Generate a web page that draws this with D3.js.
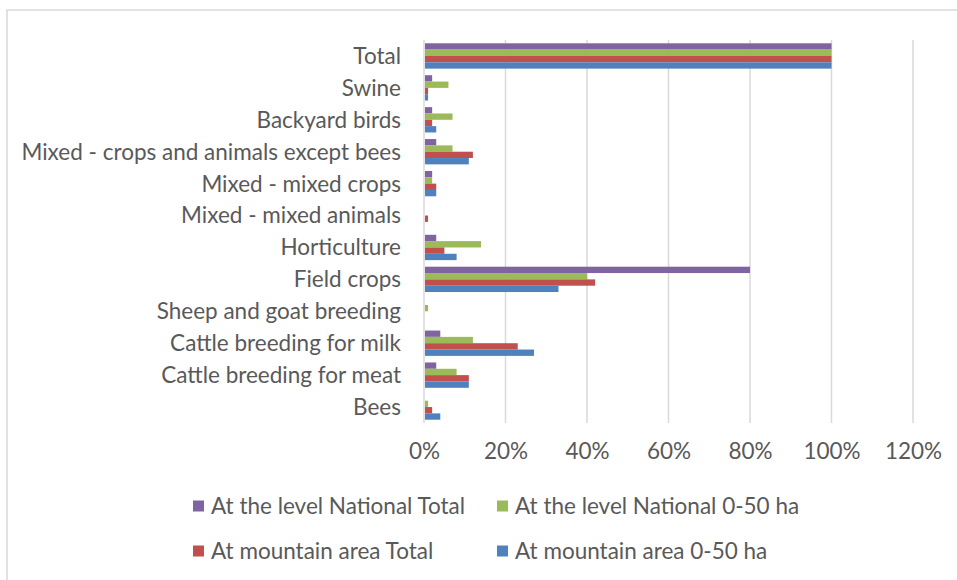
<!DOCTYPE html>
<html><head><meta charset="utf-8">
<script src="https://cdn.jsdelivr.net/npm/d3@7"></script>
<style>body{margin:0;background:#fff;} text{font-family:Lato,"Open Sans",sans-serif;fill:#595959;}</style>
</head><body>
<svg id="c" width="957" height="580"></svg>
<script>
const categories = ["Total","Swine","Backyard birds","Mixed - crops and animals except bees","Mixed - mixed crops","Mixed - mixed animals","Horticulture","Field crops","Sheep and goat breeding","Cattle breeding for milk","Cattle breeding for meat","Bees"];
const seriesNames = ["At the level National Total","At the level National 0-50 ha","At mountain area Total","At mountain area 0-50 ha"];
const nationalTotal = [1.00,0.02,0.02,0.03,0.02,0.00,0.03,0.80,0.00,0.04,0.03,0.00];
const national050  = [1.00,0.06,0.07,0.07,0.02,0.00,0.14,0.40,0.01,0.12,0.08,0.01];
const mountainTotal = [1.00,0.01,0.02,0.12,0.03,0.01,0.05,0.42,0.00,0.23,0.11,0.02];
const mountain050  = [1.00,0.01,0.03,0.11,0.03,0.00,0.08,0.33,0.00,0.27,0.11,0.04];
const tickValues = [0,0.2,0.4,0.6,0.8,1.0,1.2];
const colors = ["#8064a2","#9bbb59","#c0504d","#4f81bd"];

const seriesValues = [nationalTotal, national050, mountainTotal, mountain050];
const FS = 22.5;
const svg = d3.select("#c");
// chart border
svg.append("rect").attr("x",7).attr("y",10).attr("width",970).attr("height",600)
  .attr("fill","none").attr("stroke","#d9d9d9").attr("stroke-width",1.5);

const x = d3.scaleLinear().domain([0,1.2]).range([424,913]);
const y = d3.scaleBand().domain(categories).range([40,423]);
const inner = d3.scaleBand().domain(d3.range(4)).range([0, y.bandwidth()]).paddingOuter(0.52);

// gridlines
svg.append("g").selectAll("line").data(tickValues).join("line")
  .attr("x1",d=>x(d)).attr("x2",d=>x(d)).attr("y1",40).attr("y2",423)
  .attr("stroke","#d9d9d9").attr("stroke-width",1.5);

// bars
seriesValues.forEach((vals,si)=>{
  svg.append("g").selectAll("rect").data(categories).join("rect")
    .attr("x",x(0)+1)
    .attr("y",c=>y(c)+inner(si))
    .attr("width",(c,i)=>Math.max(0,x(vals[i])-x(0)-1))
    .attr("height",inner.bandwidth())
    .attr("fill",colors[si]);
});

// category labels
svg.append("g").selectAll("text").data(categories).join("text")
  .attr("x",401).attr("y",c=>y(c)+y.bandwidth()/2).attr("dy","0.35em")
  .attr("text-anchor","end").attr("font-size",FS).text(c=>c);

// x axis tick labels
const xAxis = d3.axisBottom(x).tickValues(tickValues).tickFormat(d3.format(".0%")).tickSize(0).tickPadding(0);
const gx = svg.append("g").attr("transform","translate(0,443)").call(xAxis);
gx.select(".domain").remove();
gx.selectAll("text").attr("font-size",FS).attr("font-family","Lato").attr("fill","#595959");

// legend
const legPos = [[193,506],[497,506],[193,551],[497,551]];
const leg = svg.append("g").selectAll("g").data(seriesNames).join("g")
  .attr("transform",(d,i)=>`translate(${legPos[i][0]},${legPos[i][1]})`);
leg.append("rect").attr("x",0).attr("y",-5.5).attr("width",11).attr("height",11).attr("fill",(d,i)=>colors[i]);
leg.append("text").attr("x",18).attr("dy","0.35em").attr("font-size",FS).text(d=>d);
</script>
</body></html>
